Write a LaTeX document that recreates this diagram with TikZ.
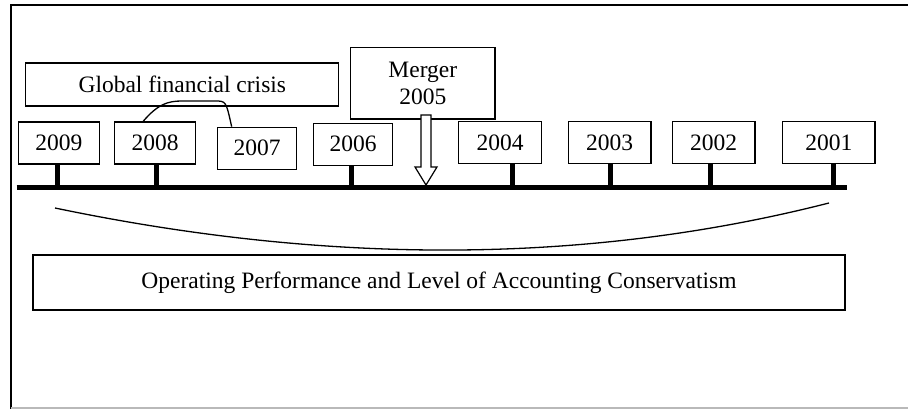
\documentclass[tikz,border=0pt]{standalone}
\usepackage{fontspec}
\setmainfont{Liberation Serif}
\usetikzlibrary{calc}
\tikzset{every node/.style={font=\fontsize{23.5}{27}\selectfont},yearbox/.style={draw,line width=1.3pt,inner sep=0pt,minimum height=42pt},textbox/.style={draw,line width=1.3pt,inner sep=0pt},tick/.style={line width=5pt},link/.style={line width=1.3pt}}

\begin{document}
\begin{tikzpicture}[x=1pt,y=-1pt]
\useasboundingbox (0,0) rectangle (908,409);
\draw[line width=2pt] (908,5)--(11,5)--(11,409);\draw[line width=1.5pt,gray!55] (11,408)--(908,408);
\node[textbox,minimum width=313pt,minimum height=43pt] (crisis) at (182.3,84.5){Global financial crisis};
\node[textbox,minimum width=144.5pt,minimum height=71.5pt,align=center] (merger) at (422.8,83.3){Merger\\2005};
\foreach \n/\x/\y/\w in {2009/58.8/143/81,2008/155/143/81.4,2007/257/148.3/79.4,2006/353/144.2/79.4,2004/500/142.8/83.4,2003/609.7/142.8/82.7,2002/713.7/142.8/82.7,2001/828.8/142.8/92.3}{\node[yearbox,minimum width=\w pt,fill=white] (y\n) at (\x,\y){\n};}
\coordinate (tl-w) at (16.7,187.7);\coordinate (tl-e) at (846.7,187.7);
\foreach \n/\x in {2009/57.3,2008/156.7,2006/351,2004/512.7,2003/610.7,2002/710.7,2001/833.3}{\draw[tick] (y\n.south -| \x,0)--(\x,0 |- tl-w);}
\draw[line width=5pt] (tl-w)--(tl-e);
\coordinate (m-top) at (426,115);
\draw[line width=1.2pt,fill=white] ($(m-top)+(-5,0)$)--($(m-top)+(-5,52)$)--($(m-top)+(-11,52)$)--($(m-top)+(0,70)$)--($(m-top)+(11,52)$)--($(m-top)+(5,52)$)--($(m-top)+(5,0)$)--cycle;
\coordinate (l-a) at ($(y2008.north west)+(29.5,0)$);\coordinate (l-b) at ($(y2007.north west)+(15,0)$);
\draw[link] (l-a) .. controls (158,104) and (168,101) .. (182,101)--(215,101) .. controls (226,101) .. (l-b);
\node[textbox,minimum width=812pt,minimum height=55pt] (perf) at (439,282.5){Operating Performance and Level of Accounting Conservatism};
\coordinate (br-w) at (55,208);\coordinate (br-e) at (829,203);
\draw[link] (br-w) .. controls (331.7,265.7) and (589.7,264) .. (br-e);
\end{tikzpicture}
\end{document}
